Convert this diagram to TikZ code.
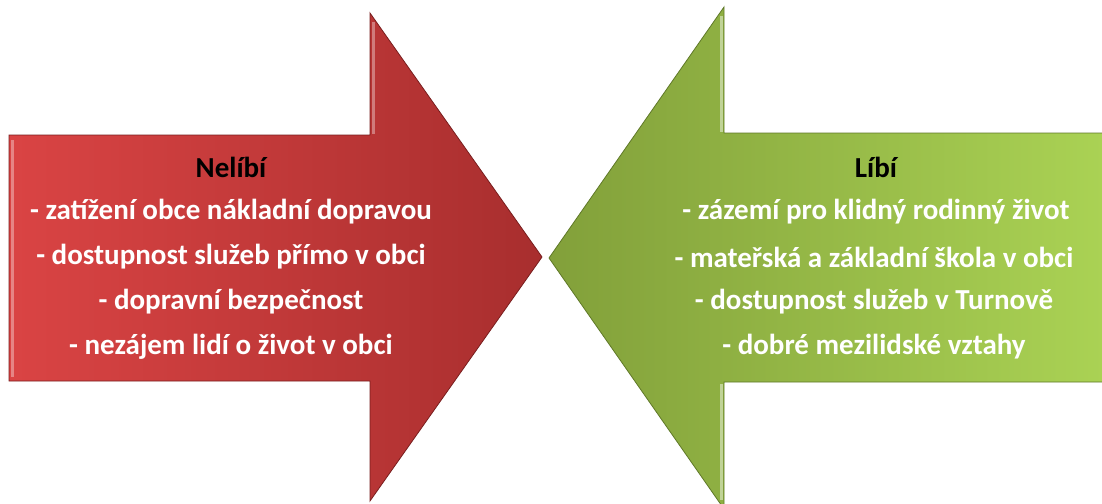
\documentclass[tikz,border=0pt]{standalone}
\usepackage{fontspec}
\setmainfont{Carlito}
\begin{document}
\begin{tikzpicture}[x=1pt,y=-1pt,
  head/.style={font=\bfseries\fontsize{29}{33}\selectfont, text=black, inner sep=0pt, anchor=center},
  item/.style={font=\bfseries\fontsize{29}{33}\selectfont, text=white, inner sep=0pt, anchor=center},
  redarrow/.style={left color=redL, right color=redR, draw=redD, line width=0.8pt},
  greenarrow/.style={left color=greenL, right color=greenR, draw=greenD, line width=0.8pt}]
\definecolor{redL}{RGB}{218,68,68}
\definecolor{redR}{RGB}{168,46,46}
\definecolor{redD}{RGB}{120,30,30}
\definecolor{greenL}{RGB}{130,160,58}
\definecolor{greenR}{RGB}{170,210,84}
\definecolor{greenD}{RGB}{95,120,40}
\useasboundingbox (0,0) rectangle (1102,503);
\clip (0,0) rectangle (1102,503);
% red arrow
\path[redarrow] (9,135) -- (370,135) -- (370,13) -- (542,257) -- (370,501) -- (370,381) -- (9,381) -- cycle;
% green arrow
\path[greenarrow] (1104,133) -- (724,133) -- (724,7) -- (549,258) -- (724,509) -- (724,382) -- (1104,382) -- cycle;
% bevel highlights
\draw[white, opacity=0.35, line width=3pt] (12,140) -- (12,377);
\draw[white, opacity=0.35, line width=3pt] (373,22) -- (373,134);
\draw[white, opacity=0.45, line width=3pt] (721,16) -- (721,132);
\draw[white, opacity=0.45, line width=3pt] (721,384) -- (721,500);
% texts
\node[head] (nh) at (231,167) {Nelíbí};
\node[item] (n1) at (231,212) {- zatížení obce nákladní dopravou};
\node[item] (n2) at (231,257) {- dostupnost služeb přímo v obci};
\node[item] (n3) at (231,302) {- dopravní bezpečnost};
\node[item] (n4) at (231,347) {- nezájem lidí o život v obci};
\node[head] (lh) at (876,167) {Líbí};
\node[item] (l1) at (876,212) {- zázemí pro klidný rodinný život};
\node[item] (l2) at (874,257) {- mateřská a základní škola v obci};
\node[item] (l3) at (874,302) {- dostupnost služeb v Turnově};
\node[item] (l4) at (874,347) {- dobré mezilidské vztahy};
\end{tikzpicture}
\end{document}
